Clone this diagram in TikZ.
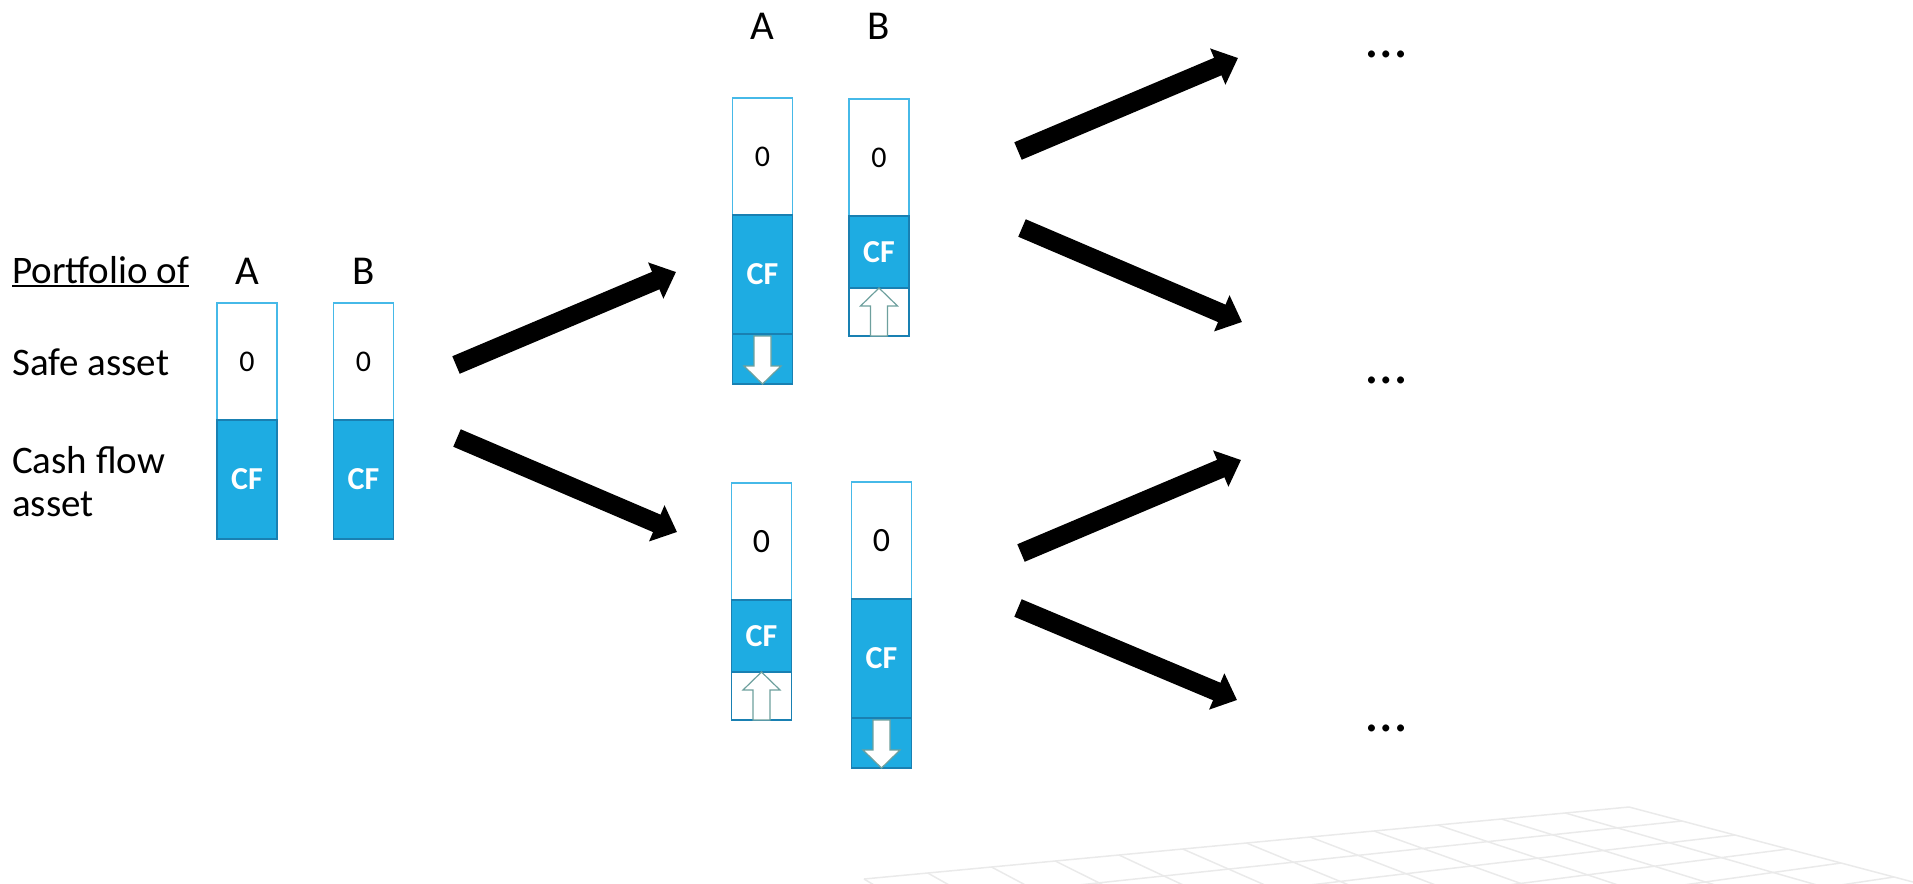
\documentclass[tikz,border=0pt]{standalone}
\usepackage{fontspec}
\setmainfont{Carlito}
\usetikzlibrary{positioning,arrows.meta,calc}

\definecolor{cfblue}{RGB}{30,172,226}
\definecolor{cfedge}{RGB}{25,128,178}
\definecolor{zeroedge}{RGB}{70,185,232}
\definecolor{arredge}{RGB}{110,160,158}
\definecolor{gridgray}{RGB}{234,234,234}

\tikzset{
  cell/.style={minimum width=60pt, inner sep=0pt, outer sep=0pt, line width=1.5pt},
  zero/.style={cell, draw=zeroedge, fill=white, minimum height=117pt, font=\fontsize{30}{30}\selectfont},
  cf/.style={cell, draw=cfedge, fill=cfblue, text=white, minimum height=119pt, font=\fontsize{32}{32}\selectfont\bfseries},
  cfsmall/.style={cf, minimum height=72pt},
  upcell/.style={cell, draw=cfedge, fill=white, minimum height=48pt},
  downcell/.style={cell, draw=cfedge, fill=cfblue, minimum height=50pt},
  rowlabel/.style={font=\fontsize{39}{44}\selectfont, inner sep=0pt, anchor=base west},
  toplabel/.style={font=\fontsize{41}{41}\selectfont, inner sep=0pt, anchor=base},
  dots/.style={font=\fontsize{58}{58}\selectfont, inner sep=0pt},
  bigarrow/.style={line width=19pt, -{Triangle[width=38pt,length=22pt]}},
  gridline/.style={draw=gridgray, line width=1.5pt},
  blockarr/.pic={\draw[line width=1.2pt, draw=arredge, fill=white]
    (0,0) -- (18.5,18) -- (8.5,18) -- (8.5,48) -- (-8.5,48) -- (-8.5,18) -- (-18.5,18) -- cycle;}
}

\begin{document}
\begin{tikzpicture}[x=1pt,y=-1pt]
\useasboundingbox (0,0) rectangle (1913,883);

% faint floor grid
\begin{scope}
\clip (0,0) rectangle (1913,883);
\coordinate (gA) at (1629,807);
\coordinate (gB) at (864,879);
\coordinate (gC) at (2000,905);
\coordinate (gD) at (1149,1050);
\foreach \i in {0,...,12}
  \draw[gridline] ($(gA)!\i/12!(gB)$) -- ($(gC)!\i/12!(gD)$);
\foreach \j in {0,...,7}
  \draw[gridline] ($(gA)!\j/7!(gC)$) -- ($(gB)!\j/7!(gD)$);
\end{scope}

% start portfolio
\node[rowlabel] (port) at (12,283) {Portfolio of};
\draw[line width=2.5pt] ([yshift=-3pt]port.base west) -- ([yshift=-3pt]port.base east);
\node[rowlabel] (safe) at (12,375) {Safe asset};
\node[rowlabel] (cash) at (12,473) {Cash flow};
\node[rowlabel] (cash2) at (12,516) {asset};

\node[toplabel] (pAl) at (247,284) {A};
\node[toplabel] (pBl) at (363.5,284) {B};
\node[zero, anchor=north] (pA0) at (247,303) {0};
\node[cf, below=0pt of pA0] (pAcf) {CF};
\node[zero, anchor=north] (pB0) at (363.5,303) {0};
\node[cf, below=0pt of pB0] (pBcf) {CF};

% upper branch
\node[toplabel] (uAl) at (762.5,40) {A};
\node[toplabel] (uBl) at (879,40) {B};
\node[zero, anchor=north] (uA0) at (762.5,98) {0};
\node[cf, below=0pt of uA0] (uAcf) {CF};
\node[downcell, below=0pt of uAcf] (uAdn) {};
\pic[rotate=180] at (uAdn.south) {blockarr};
\node[zero, anchor=north] (uB0) at (879,99) {0};
\node[cfsmall, below=0pt of uB0] (uBcf) {CF};
\node[upcell, below=0pt of uBcf] (uBup) {};
\pic at (uBup.north) {blockarr};

% lower branch
\node[zero, anchor=north, font=\fontsize{34}{34}\selectfont] (lA0) at (761.5,483) {0};
\node[cfsmall, below=0pt of lA0] (lAcf) {CF};
\node[upcell, below=0pt of lAcf] (lAup) {};
\pic at (lAup.north) {blockarr};
\node[zero, anchor=north, font=\fontsize{34}{34}\selectfont] (lB0) at (881.5,482) {0};
\node[cf, below=0pt of lB0] (lBcf) {CF};
\node[downcell, below=0pt of lBcf] (lBdn) {};
\pic[rotate=180] at (lBdn.south) {blockarr};

% next states
\node[dots] (d1) at (1387,54) {…};
\node[dots] (d2) at (1387,380) {…};
\node[dots] (d3) at (1387,728) {…};

% arrows
\coordinate (s1) at (456,365);  \coordinate (e1) at (676,272);
\coordinate (s2) at (457,438);  \coordinate (e2) at (677,532);
\coordinate (s3) at (1018,151); \coordinate (e3) at (1238,58);
\coordinate (s4) at (1022,228); \coordinate (e4) at (1242,322);
\coordinate (s5) at (1021,553); \coordinate (e5) at (1241,460);
\coordinate (s6) at (1018,608); \coordinate (e6) at (1237,700);
\foreach \k in {1,...,6}
  \draw[bigarrow] (s\k) -- (e\k);
\end{tikzpicture}
\end{document}
